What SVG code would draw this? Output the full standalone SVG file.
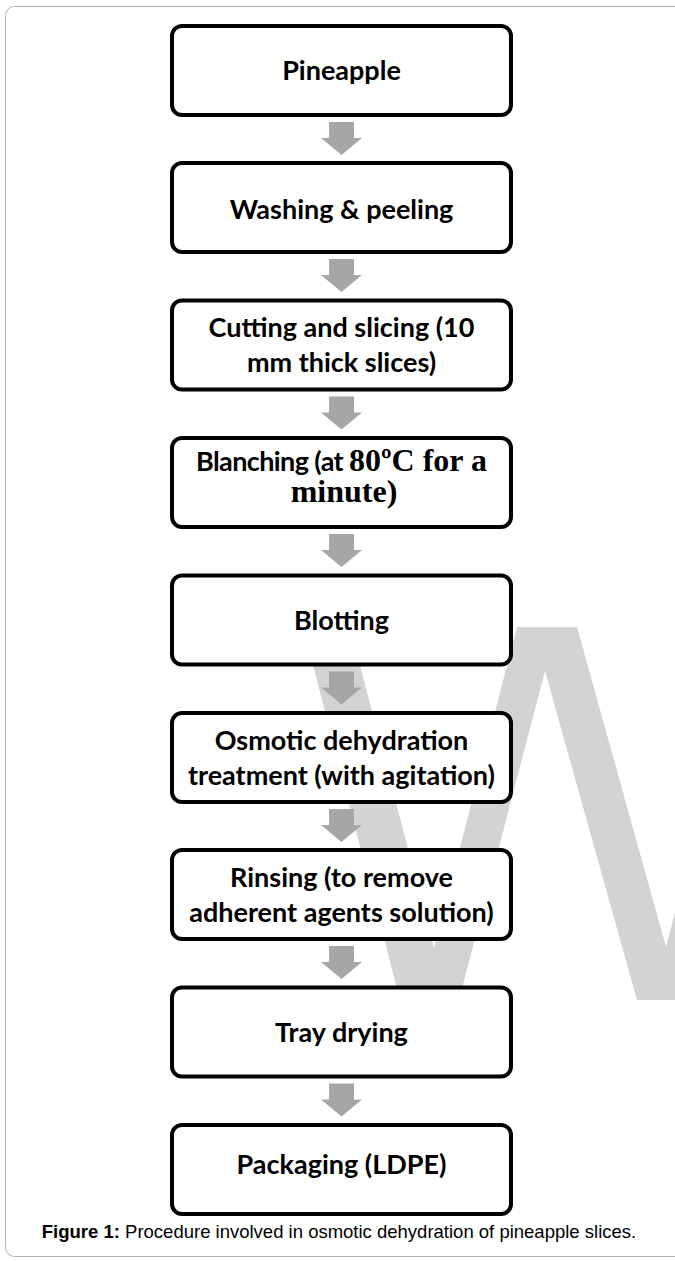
<svg xmlns="http://www.w3.org/2000/svg" width="675" height="1261" viewBox="0 0 675 1261">
<style>
.box{fill:#fff;stroke:#000;stroke-width:4}
.lbl{font-family:Lato,"Open Sans","Liberation Sans",sans-serif;font-weight:bold;font-size:27px;fill:#000;text-anchor:middle}
.ser{font-family:"Liberation Serif","Times New Roman",serif;font-weight:bold;font-size:32px}
.arr{fill:#a6a6a6}
.cap{font-family:"Liberation Sans",Arial,sans-serif;font-size:18.5px;fill:#000;text-anchor:middle}
</style>
<rect x="5.5" y="6.5" width="720" height="1250" rx="9" fill="#fff" stroke="#b3b3b3" stroke-width="1"/>
<polygon id="watermark" fill="#d3d3d3" points="303,627 350,627 434,948 517,627 577,627 666,947 749,627 796,627 699,1000 637,1000 545,671 459,1000 400,1000"/>
<g id="connectors">
<path class="arr" d="M329,122h25v16h8l-20.5,17l-20.5,-17h8z"/>
<path class="arr" d="M329,259h25v16h8l-20.5,17l-20.5,-17h8z"/>
<path class="arr" d="M329,396.5h25v16h8l-20.5,17l-20.5,-17h8z"/>
<path class="arr" d="M329,534h25v16h8l-20.5,17l-20.5,-17h8z"/>
<path class="arr" d="M329,671.5h25v16h8l-20.5,17l-20.5,-17h8z"/>
<path class="arr" d="M329,809h25v16h8l-20.5,17l-20.5,-17h8z"/>
<path class="arr" d="M329,946h25v16h8l-20.5,17l-20.5,-17h8z"/>
<path class="arr" d="M329,1083.5h25v16h8l-20.5,17l-20.5,-17h8z"/>
</g>
<g id="n1"><rect class="box" x="172" y="26" width="339" height="89" rx="10"/><text class="lbl" x="341.5" y="80">Pineapple</text></g>
<g id="n2"><rect class="box" x="172" y="163" width="339" height="89" rx="10"/><text class="lbl" x="341.5" y="219">Washing &amp; peeling</text></g>
<g id="n3"><rect class="box" x="172" y="300.5" width="339" height="89" rx="10"/><text class="lbl" x="341.5" y="337">Cutting and slicing (10</text><text class="lbl" x="341.5" y="372">mm thick slices)</text></g>
<g id="n4"><rect class="box" x="172" y="438" width="339" height="89" rx="10"/><text class="lbl" x="341.5" y="471"><tspan letter-spacing="-0.6">Blanching (at </tspan><tspan class="ser">80ºC for a</tspan></text><text class="lbl ser" x="344" y="502">minute)</text></g>
<g id="n5"><rect class="box" x="172" y="575.5" width="339" height="89" rx="10"/><text class="lbl" x="341.5" y="630">Blotting</text></g>
<g id="n6"><rect class="box" x="172" y="713" width="339" height="89" rx="10"/><text class="lbl" x="341.5" y="750">Osmotic dehydration</text><text class="lbl" x="341.5" y="785">treatment (with agitation)</text></g>
<g id="n7"><rect class="box" x="172" y="850" width="339" height="89" rx="10"/><text class="lbl" x="341.5" y="887">Rinsing (to remove</text><text class="lbl" x="341.5" y="922">adherent agents solution)</text></g>
<g id="n8"><rect class="box" x="172" y="987.5" width="339" height="89" rx="10"/><text class="lbl" x="341.5" y="1042">Tray drying</text></g>
<g id="n9"><rect class="box" x="172" y="1125" width="339" height="89" rx="10"/><text class="lbl" x="341.5" y="1174">Packaging (LDPE)</text></g>
<text class="cap" x="339" y="1238"><tspan font-weight="bold">Figure 1:</tspan> Procedure involved in osmotic dehydration of pineapple slices.</text>
</svg>
